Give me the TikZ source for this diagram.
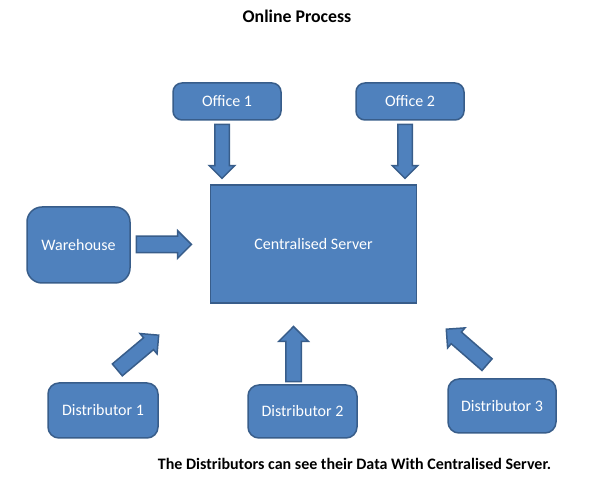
\documentclass[tikz,border=0pt]{standalone}
\usepackage{fontspec}
\setmainfont{Carlito}
\usetikzlibrary{shapes.arrows}

\definecolor{boxfill}{HTML}{4F81BD}
\definecolor{boxline}{HTML}{385D8A}

\tikzset{
  blockbox/.style={draw=boxline, fill=boxfill, line width=1.5pt, text=white,
    inner sep=0pt, rounded corners=#1},
  blockbox/.default=9pt,
  blockarrow/.style={single arrow, draw=boxline, fill=boxfill, line width=1.5pt,
    inner xsep=0pt, inner ysep=7pt, single arrow head extend=5.5pt,
    minimum height=54pt, anchor=tip}
}

\begin{document}
\begin{tikzpicture}[x=1pt,y=-1pt,font=\fontsize{16}{19}\selectfont]
\useasboundingbox (0,0) rectangle (606,478);

\node[font=\fontsize{17.8}{21}\selectfont\bfseries] (title) at (297,16) {Online Process};

% the boxes
\node[blockbox, minimum width=108pt, minimum height=37pt] (office1) at (227,101.5) {Office 1};
\node[blockbox, minimum width=108pt, minimum height=37pt] (office2) at (410,101.5) {Office 2};
\node[blockbox=0pt, minimum width=206pt, minimum height=118pt] (server) at (313.5,244) {Centralised Server};
\node[blockbox=15pt, minimum width=103pt, minimum height=76pt] (warehouse) at (78.5,245) {Warehouse};
\node[blockbox=11pt, minimum width=110pt, minimum height=55pt] (dist1) at (103,410.5) {Distributor 1};
\node[blockbox=11pt, minimum width=109pt, minimum height=53pt] (dist2) at (302.5,411.5) {Distributor 2};
\node[blockbox=11pt, minimum width=108pt, minimum height=54pt] (dist3) at (502,406) {Distributor 3};

% the block arrows, placed by their tips
\node[blockarrow, rotate=-90, inner ysep=6.5pt] (arrow1) at (222,179.5) {};
\node[blockarrow, rotate=-90, inner ysep=6.5pt] (arrow2) at (405,179.5) {};
\node[blockarrow, minimum height=55pt, inner ysep=7.5pt] (arrow3) at (192.5,244.5) {};
\node[blockarrow, rotate=40] (arrow4) at (159.5,334.5) {};
\node[blockarrow, rotate=90, minimum height=55pt, inner ysep=7pt, single arrow head extend=7pt] (arrow5) at (293.5,325.5) {};
\node[blockarrow, rotate=139] (arrow6) at (445.5,328.5) {};

\node[font=\fontsize{16}{19}\selectfont\bfseries] (caption) at (354.5,464)
  {The Distributors can see their Data With Centralised Server.};

\end{tikzpicture}
\end{document}
